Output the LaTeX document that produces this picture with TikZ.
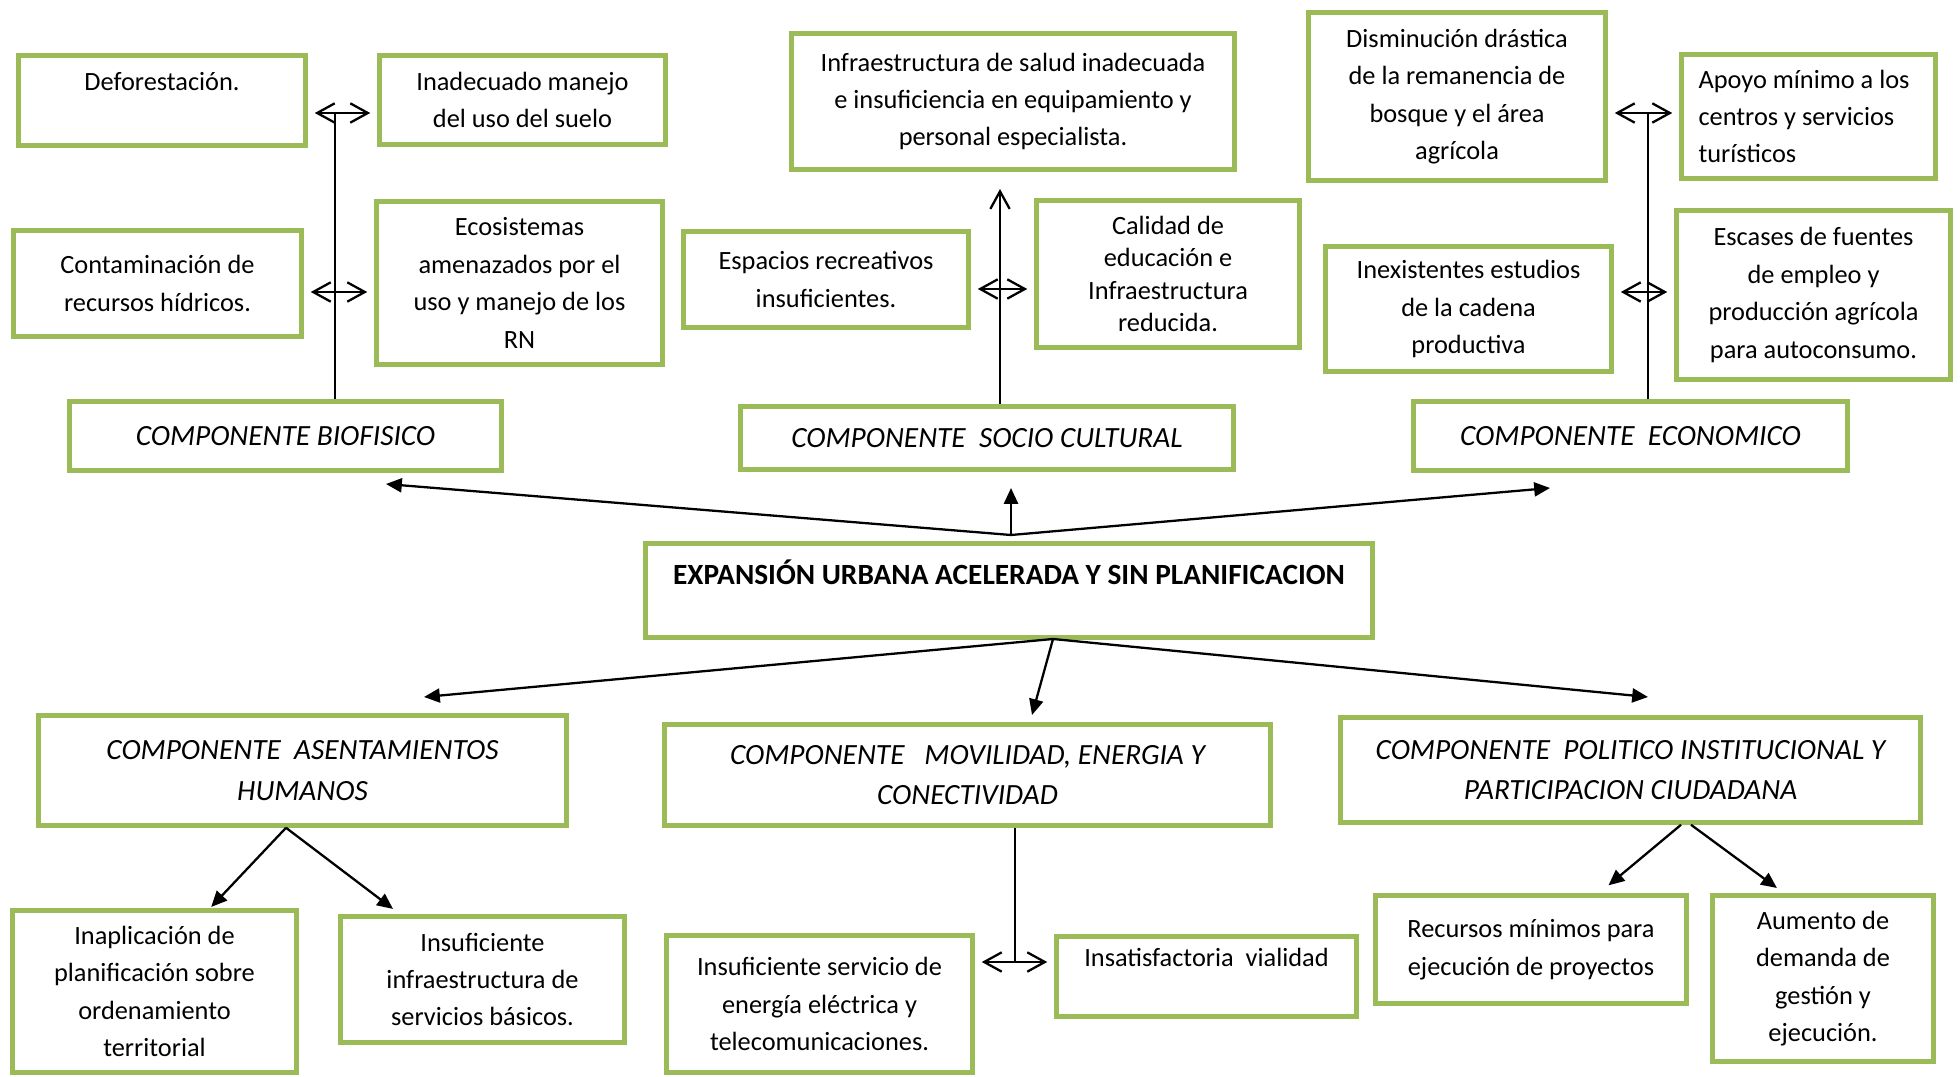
\documentclass[tikz,border=0pt]{standalone}
\usepackage{fontspec}
\setmainfont{Carlito}
\usepackage{tikz}
\usetikzlibrary{arrows.meta, positioning, calc}
\definecolor{verde}{RGB}{155,187,89}

\tikzset{
  caja/.style={draw=verde, line width=2.6pt, inner sep=0pt, align=center, font=\fontsize{15}{21.3}\selectfont},
  comp/.style={caja, font=\fontsize{16.7}{23.2}\selectfont\itshape},
  linea/.style={line width=1.3pt},
  flecha/.style={linea, -{Triangle[length=9pt,width=8pt]}},
  punta/.style={linea, -{Straight Barb[length=10pt,width=11pt]}},
  dobl/.style={linea, {Straight Barb[length=10pt,width=11pt]}-{Straight Barb[length=10pt,width=11pt]}, shorten <=4pt, shorten >=4pt}
}

\begin{document}
\begin{tikzpicture}[x=0.02cm, y=-0.02cm]
\useasboundingbox (0,0) rectangle (1960,1077);

% Componente biofisico
\node[caja, minimum width=5.74cm, minimum height=1.80cm] (defo) at (162,100.5) {Deforestación.\\ \mbox{}};
\node[caja, minimum width=5.72cm, minimum height=1.78cm] (inad) at (522.5,100) {Inadecuado manejo\\del uso del suelo};
\node[caja, minimum width=5.76cm, minimum height=2.12cm] (conta) at (157.5,283.5) {Contaminación de\\recursos hídricos.};
\node[caja, minimum width=5.72cm, minimum height=3.26cm] (eco) at (519.5,283) {Ecosistemas\\amenazados por el\\uso y manejo de los\\RN};
\node[comp, minimum width=8.64cm, minimum height=1.38cm] (bio) at (285.5,436) {COMPONENTE BIOFISICO};

% Componente socio cultural
\node[caja, minimum width=8.86cm, minimum height=2.72cm] (salud) at (1013,101.5) {Infraestructura de salud inadecuada\\e insuficiencia en equipamiento y\\personal especialista.};
\node[caja, minimum width=5.70cm, minimum height=1.92cm] (esp) at (826,279.5) {Espacios recreativos\\insuficientes.};
\node[caja, minimum width=5.26cm, minimum height=2.94cm, font=\fontsize{15}{18.5}\selectfont] (cal) at (1168,274) {Calidad de\\educación e\\Infraestructura\\reducida.};
\node[comp, minimum width=9.86cm, minimum height=1.26cm] (socio) at (987,438) {COMPONENTE~ SOCIO CULTURAL};

% Componente economico
\node[caja, minimum width=5.94cm, minimum height=3.36cm] (dism) at (1457,96.5) {Disminución drástica\\de la remanencia de\\bosque y el área\\agrícola};
\node[caja, minimum width=5.08cm, minimum height=2.48cm, text width=4.4cm, align=flush left] (apoyo) at (1808.5,116.5) {Apoyo mínimo a los\\centros y servicios\\turísticos};
\node[caja, minimum width=5.72cm, minimum height=2.50cm] (inex) at (1468.5,309) {Inexistentes estudios\\de la cadena\\productiva};
\node[caja, minimum width=5.48cm, minimum height=3.38cm] (esc) at (1813.5,295) {Escases de fuentes\\de empleo y\\producción agrícola\\para autoconsumo.};
\node[comp, minimum width=8.68cm, minimum height=1.38cm] (econ) at (1630.5,436) {COMPONENTE~ ECONOMICO};

% Problema central
\node[caja, minimum width=14.54cm, minimum height=1.88cm, font=\fontsize{16.7}{21.3}\selectfont\bfseries] (expansion) at (1009,590.5) {EXPANSIÓN URBANA ACELERADA Y SIN PLANIFICACION\\ \mbox{}};

% Componentes de abajo
\node[comp, minimum width=10.56cm, minimum height=2.20cm] (ase) at (302.5,770.5) {COMPONENTE~ ASENTAMIENTOS\\HUMANOS};
\node[comp, minimum width=12.12cm, minimum height=2.02cm] (mov) at (967.5,775) {COMPONENTE~~ MOVILIDAD, ENERGIA Y\\CONECTIVIDAD};
\node[comp, minimum width=11.60cm, minimum height=2.10cm] (pol) at (1630.5,770) {COMPONENTE~ POLITICO INSTITUCIONAL Y\\PARTICIPACION CIUDADANA};

\node[caja, minimum width=5.68cm, minimum height=3.24cm] (inap) at (154.5,991.5) {Inaplicación de\\planificación sobre\\ordenamiento\\territorial};
\node[caja, minimum width=5.68cm, minimum height=2.52cm] (infra) at (482.5,979.5) {Insuficiente\\infraestructura de\\servicios básicos.};
\node[caja, minimum width=6.12cm, minimum height=2.74cm] (serv) at (819.5,1004) {Insuficiente servicio de\\energía eléctrica y\\telecomunicaciones.};
\node[caja, minimum width=6.00cm, minimum height=1.60cm] (vial) at (1206.5,976.5) {Insatisfactoria~ vialidad\\ \mbox{}};
\node[caja, minimum width=6.22cm, minimum height=2.16cm] (rec) at (1531,949.5) {Recursos mínimos para\\ejecución de proyectos};
\node[caja, minimum width=4.42cm, minimum height=3.32cm] (aum) at (1823,978.5) {Aumento de\\demanda de\\gestión y\\ejecución.};

% ejes verticales
\coordinate (b1) at (335,113);
\coordinate (b2) at (335,292);
\coordinate (s1) at (1000,189);
\coordinate (s2) at (1000,289);
\coordinate (e1) at (1648,113);
\coordinate (e2) at (1648,292);
\coordinate (m1) at (1015,962);

\draw[linea] (bio.north -| b1) -- (b1);
\draw[dobl] (defo.east |- b1) -- (inad.west |- b1);
\draw[dobl] (conta.east |- b2) -- (eco.west |- b2);

\draw[punta] (socio.north -| s1) -- (s1);
\draw[dobl] (esp.east |- s2) -- (cal.west |- s2);

\draw[linea] (econ.north -| e1) -- (e1);
\draw[dobl] (dism.east |- e1) -- (apoyo.west |- e1);
\draw[dobl] (inex.east |- e2) -- (esc.west |- e2);

\draw[linea] (mov.south -| m1) -- (m1);
\draw[dobl] (serv.east |- m1) -- (vial.west |- m1);

% ramas del problema central
\coordinate (jt) at (1011,535);
\coordinate (tbio) at (386,484);
\coordinate (tsocio) at (1011,488);
\coordinate (teco) at (1550,488);
\draw[flecha] (jt) -- (tbio);
\draw[flecha] (jt) -- (tsocio);
\draw[flecha] (jt) -- (teco);

\coordinate (jb) at (1053,639);
\coordinate (tase) at (424,697);
\coordinate (tmov) at (1032,715);
\coordinate (tpol) at (1648,697);
\draw[flecha] (jb) -- (tase);
\draw[flecha] (jb) -- (tmov);
\draw[flecha] (jb) -- (tpol);

\draw[flecha, shorten >=1pt] (ase.south -| 286,0) -- (inap.north -| 210,0);
\draw[flecha, shorten >=5pt] (ase.south -| 286,0) -- (infra.north -| 400,0);
\draw[flecha, shorten >=7pt] (pol.south -| 1681,0) -- (rec.north -| 1599,0);
\draw[flecha, shorten >=5pt] (pol.south -| 1691,0) -- (aum.north -| 1784,0);
\end{tikzpicture}
\end{document}
